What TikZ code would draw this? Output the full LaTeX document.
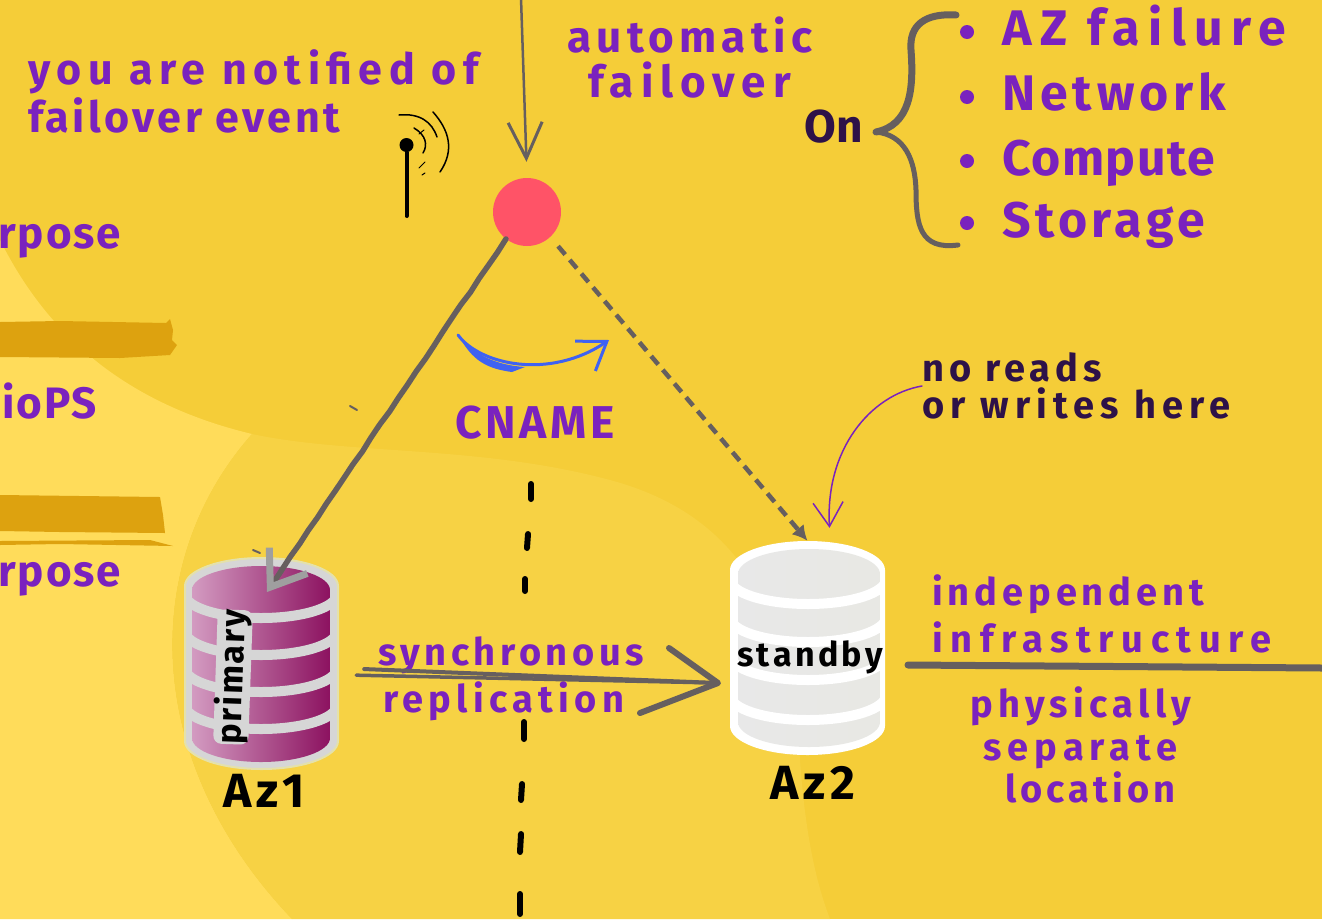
\documentclass[tikz,border=0pt]{standalone}
\usepackage{fontspec}
\usepackage{xcolor}
\usetikzlibrary{arrows.meta,decorations.pathmorphing}
\setmainfont{Fira Sans}
\definecolor{basegold}{HTML}{F5CD38}
\definecolor{midgold}{HTML}{F7D244}
\definecolor{lightgold}{HTML}{FFDC5A}
\definecolor{bargold}{HTML}{DDA20F}
\definecolor{labelpurple}{HTML}{7A22BE}
\definecolor{darkpurple}{HTML}{2E1248}
\definecolor{linegrey}{HTML}{665F5F}
\definecolor{swoopblue}{HTML}{3F62F2}
\definecolor{dotred}{HTML}{FF5367}
\definecolor{dbgrey}{HTML}{D6D6D6}
\tikzset{
  lbl/.style 2 args={text=labelpurple,font=\fontsize{#1}{#1}\selectfont\bfseries\addfontfeature{LetterSpace=#2},inner sep=0pt},
  blk/.style 2 args={text=black,font=\fontsize{#1}{#1}\selectfont\bfseries\addfontfeature{LetterSpace=#2},inner sep=0pt},
  dbbox/.style={minimum width=153pt,minimum height=212pt,inner sep=0pt}
}
\begin{document}
\begin{tikzpicture}[x=1pt,y=-1pt,line cap=round,line join=round]
    \useasboundingbox (0,0) rectangle (1322,919);
    \fill[basegold] (0,0) rectangle (1322,919);
    \fill[lightgold] (0,240) .. controls (40,320) and (110,400) .. (252,434)
       .. controls (140,560) and (140,760) .. (292,919) -- (0,919) -- cycle;
    \fill[midgold] (252,434) .. controls (350,455) and (480,445) .. (610,480)
       .. controls (740,515) and (790,610) .. (800,760)
       .. controls (805,830) and (815,880) .. (830,919) -- (292,919)
       .. controls (140,760) and (140,560) .. (252,434) -- cycle;
    % bars on the left
    \fill[bargold] (0,322) -- (60,321) -- (166,323) -- (170,319) -- (173,330) -- (172,340)
       -- (177,345) -- (170,355) -- (120,358) -- (0,357) -- cycle;
    \fill[bargold] (0,495) -- (80,496) -- (160,497) -- (163,515) -- (165,533) -- (60,532) -- (0,531) -- cycle;
    \fill[bargold] (0,541) -- (150,540) -- (173,546) -- (60,544) -- (0,545) -- cycle;
    \node[lbl={44}{4},anchor=base east] (purposeup) at (121,248) {rpose};
    \node[lbl={44}{4},anchor=base east] (iops) at (97,418) {ioPS};
    \node[lbl={44}{4},anchor=base east] (purposelow) at (121,586) {rpose};
    % centre line
    \foreach \ya/\xa/\yb/\xb in {484/531/499/531,534/528/548/527,579/525/591/525,722/524/739/524,784/522/800/521,
       834/521/852/520,894/520/914/520}
       \draw[line width=6pt] (\xa,\ya) -- (\xb,\yb);
    % primary
    \node[dbbox] (primarydb) at (261.5,664) {};
    \fill[dbgrey,draw=yellow!25!dbgrey,line width=2pt] (185,586) arc [start angle=180,end angle=360,x radius=76.5,y radius=28]
       -- (338,741) arc [start angle=0,end angle=180,x radius=76.5,y radius=28] -- cycle;
    \begin{scope}
      \clip (192,590) arc [start angle=180,end angle=360,x radius=69,y radius=24]
       -- (330,738) arc [start angle=0,end angle=180,x radius=69,y radius=24] -- cycle;
      \shade[left color={rgb,255:red,211;green,155;blue,193},right color={rgb,255:red,140;green,18;blue,96}] (192,560) rectangle (330,770);
      \foreach \cy in {594,631,668,705}
        \draw[dbgrey,line width=10pt] (185,\cy) arc [start angle=180,end angle=0,x radius=76,y radius=24];
    \end{scope}
    \node[fill=dbgrey,rounded corners=8pt,inner sep=3pt,rotate=88,blk={34}{6}] (primarylbl) at (233,677) {primary};
    \node[blk={48}{10},anchor=base] (azone) at (264,807) {Az1};
    % standby
    \node[dbbox,minimum width=155pt,minimum height=214pt] (standbydb) at (807.5,648) {};
    \fill[white] (730,570) arc [start angle=180,end angle=360,x radius=77.5,y radius=29]
       -- (885,726) arc [start angle=0,end angle=180,x radius=77.5,y radius=29] -- cycle;
    \begin{scope}
      \clip (738,574) arc [start angle=180,end angle=360,x radius=71,y radius=25]
       -- (880,722) arc [start angle=0,end angle=180,x radius=71,y radius=25] -- cycle;
      \shade[left color=gray!18!white,right color=yellow!8!gray!20!white] (738,540) rectangle (880,750);
      \foreach \cy in {579,617,655,695}
        \draw[white,line width=10pt] (730,\cy) arc [start angle=180,end angle=0,x radius=78,y radius=25];
    \end{scope}
    \node[blk={34}{10}] (standbylbl) at (810,657) {standby};
    \node[blk={48}{10},anchor=base] (aztwo) at (813,799) {Az2};
    % dns point
    \node[circle,fill=dotred,minimum size=68pt,inner sep=0pt] (dnspoint) at (527,212) {};
    \coordinate (topin) at (521,-2);
    \coordinate (primarytip) at (267,592);
    \draw[linegrey,line width=2.5pt,-{Straight Barb[length=36pt,width=34pt,line width=3pt]},shorten >=16pt] (topin) -- (dnspoint.north);
    \draw[linegrey,line width=5.5pt,decorate,decoration={random steps,segment length=16pt,amplitude=0.5pt,post length=22pt},
       -{Straight Barb[length=32pt,width=46pt,line width=7pt,color=gray!75!white]}] (dnspoint.232) -- (primarytip);
    \draw[linegrey,line width=4.5pt,dash pattern=on 11pt off 7pt,line cap=butt,shorten <=12pt,-{Latex[length=15pt,width=16pt]}] (dnspoint.-47) -- (standbydb.north);
    \draw[linegrey,line width=2pt] (350,406) -- (357,410);
    \draw[linegrey,line width=2pt] (253,550) -- (260,553);
    % antenna
    \node[circle,fill=black,minimum size=14pt,inner sep=0pt] (antennadot) at (406.5,145) {};
    \coordinate (antennabase) at (406.5,216);
    \draw[line width=4pt] (antennadot) -- (antennabase);
    \draw[line width=1.5pt] (399,115) .. controls (420,113) and (432,122) .. (437,137);
    \draw[line width=1.5pt] (433,112) .. controls (449,130) and (455,150) .. (440,172);
    \draw[line width=1.5pt] (414,128) .. controls (426,135) and (428,145) .. (423,153);
    \draw[line width=1pt] (419,134) -- (424,130);
    \draw[line width=1pt] (419,168) -- (425,162);
    \draw[line width=1pt] (422,175) -- (425,173);
    % cname
    \coordinate (swoopstart) at (458,335);
    \coordinate (swoopend) at (609,340);
    \fill[swoopblue] (swoopstart) .. controls (475,355) and (495,365) .. (525,367)
       -- (512,372) .. controls (480,368) and (470,355) .. (swoopstart) -- cycle;
    \draw[swoopblue,line width=3pt,-{Straight Barb[length=26pt,width=36pt]}] (swoopstart) .. controls (480,365) and (550,380) .. (swoopend);
    \node[lbl={46}{8},anchor=base] (cname) at (535,438) {CNAME};
    % replication
    \node[lbl={38}{12},anchor=base west] (synclbl) at (378,665) {synchronous};
    \node[lbl={38}{14},anchor=base west] (repllbl) at (383,712) {replication};
    \coordinate (replend) at (718,683);
    \coordinate (replup) at (669,648);
    \coordinate (repldown) at (640,713);
    \draw[linegrey,line width=3.5pt,shorten <=18pt] (primarydb.-8) -- (replend);
    \draw[linegrey,line width=4pt,shorten <=26pt] (primarydb.-3) -- (replend);
    \draw[linegrey,line width=6pt] (replup) -- (replend) -- (repldown);
    % labels
    \node[lbl={43}{15},anchor=base west] (notifytop) at (28,84) {you are notified of};
    \node[lbl={43}{8},anchor=base west] (notifybot) at (28,132) {failover event};
    \node[lbl={44}{12},anchor=base west] (autolbl) at (567,52) {automatic};
    \node[lbl={44}{16},anchor=base west] (failoverlbl) at (588,97) {failover};
    \node[text=darkpurple,font=\fontsize{46}{46}\selectfont\bfseries,inner sep=0pt,anchor=base] (onlbl) at (834,142) {On};
    \draw[linegrey,line width=7pt] (956,15) .. controls (925,13) and (909,25) .. (911,50)
       .. controls (914,90) and (910,125) .. (876,132);
    \draw[linegrey,line width=5pt] (876,132) .. controls (905,135) and (915,160) .. (916,190)
       .. controls (916,225) and (920,250) .. (958,245);
    \foreach \yy/\by/\sp/\name in {32/45/17/AZ failure,97/110/10/Network,161/175/3/Compute,223/237/9/Storage}{
       \fill[labelpurple] (967,\yy) circle [radius=7];
       \node[lbl={50}{\sp},anchor=base west] (item\yy) at (1002,\by) {\name};
    }
    \node[anchor=west,align=left,text=darkpurple,font=\fontsize{38}{37}\selectfont\bfseries\addfontfeature{LetterSpace=13},inner sep=0pt] (noreads) at (922,386) {no reads\\\addfontfeature{LetterSpace=16}or writes here};
    \draw[labelpurple,line width=1.5pt,shorten >=13pt,-{Straight Barb[length=24pt,width=30pt]}] (noreads.west) .. controls (870,395) and (825,450) .. (standbydb.78);
    \node[lbl={38}{13},anchor=base west] (indeplbl) at (932,605) {independent};
    \node[lbl={38}{20},anchor=base west] (infralbl) at (932,652) {infrastructure};
    \coordinate (dividerstart) at (908,665);
    \coordinate (dividerend) at (1322,668);
    \draw[linegrey,line width=7pt] (dividerstart) -- (dividerend);
    \node[lbl={38}{14},anchor=base west] (physlbl) at (970,717) {physically};
    \node[lbl={38}{16},anchor=base west] (seplbl) at (983,760) {separate};
    \node[lbl={38}{11},anchor=base west] (loclbl) at (1005,802) {location};
\end{tikzpicture}
\end{document}
